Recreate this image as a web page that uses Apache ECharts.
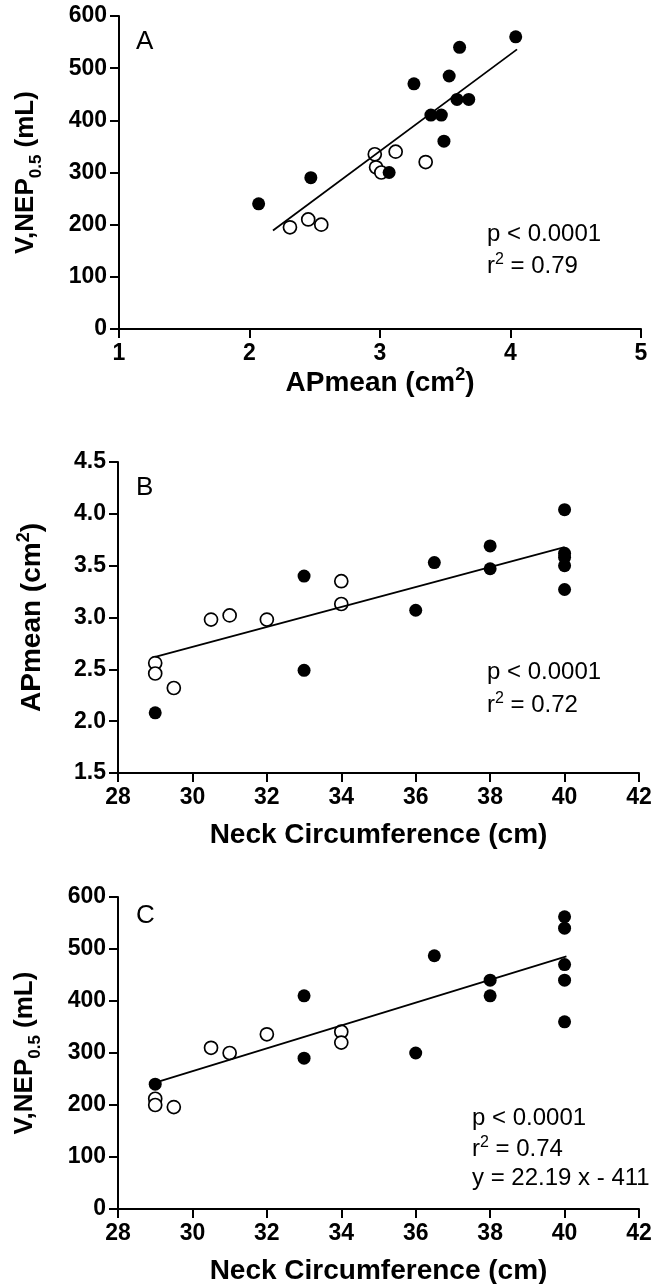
<!DOCTYPE html>
<html>
<head>
<meta charset="utf-8">
<script src="https://cdn.jsdelivr.net/npm/echarts@6/dist/echarts.min.js"></script>
<style>
  html, body { margin: 0; padding: 0; background: #fff; }
  #main { width: 668px; height: 1284px; }
</style>
</head>
<body>
<div id="main"></div>
<script>
// panel A: APmean vs V,NEP0.5
var apOpenX = [2.31, 2.45, 2.55, 2.96, 2.97, 3.01, 3.12, 3.35];
var vOpenA = [195, 210, 200, 335, 310, 300, 340, 320];
var apFilledX = [2.07, 2.47, 3.07, 3.26, 3.39, 3.47, 3.49, 3.53, 3.59, 3.61, 3.68, 4.04];
var vFilledA = [240, 290, 300, 470, 410, 410, 360, 485, 440, 540, 440, 560];
var fitAX = [2.18, 4.05];
var fitAY = [189, 536];

// panel B: neck circumference vs APmean
var neckOpen = [29, 29, 29.5, 30.5, 31, 32, 34, 34];
var apOpenB = [2.56, 2.46, 2.32, 2.98, 3.02, 2.98, 3.35, 3.13];
var neckFilled = [29, 33, 33, 36, 36.5, 38, 38, 40, 40, 40, 40, 40];
var apFilledB = [2.08, 3.40, 2.49, 3.07, 3.53, 3.69, 3.47, 4.04, 3.62, 3.58, 3.50, 3.27];
var fitBX = [29, 40];
var fitBY = [2.62, 3.68];

// panel C: neck circumference vs V,NEP0.5
var vOpenC = [212, 200, 196, 310, 300, 336, 341, 320];
var vFilledC = [240, 410, 290, 300, 487, 440, 410, 562, 540, 470, 440, 360];
var fitCX = [29, 40.05];
var fitCY = [243, 486];

var statsA = ['p < 0.0001', '0.79'];
var statsB = ['p < 0.0001', '0.72'];
var statsC = ['p < 0.0001', '0.74', 'y = 22.19 x - 411'];

var FONT = 'Liberation Sans, Arial, sans-serif';

function pairs(xs, ys) {
    var out = [];
    for (var i = 0; i < xs.length; i++) out.push([xs[i], ys[i]]);
    return out;
}

var boldName = {
    b: { fontSize: 26, fontWeight: 'bold', fontFamily: FONT, color: '#000', lineHeight: 32, verticalAlign: 'top' },
    s: { fontSize: 17, fontWeight: 'bold', fontFamily: FONT, color: '#000', lineHeight: 17, padding: [21, 0, 0, 0], verticalAlign: 'bottom' }
};
var supName = {
    b: { fontSize: 28, fontWeight: 'bold', fontFamily: FONT, color: '#000', lineHeight: 31, verticalAlign: 'bottom' },
    p: { fontSize: 18, fontWeight: 'bold', fontFamily: FONT, color: '#000', lineHeight: 18, verticalAlign: 'top' }
};

function xAxisOf(grid, min, max, step, name, gap, rich) {
    return {
        gridIndex: grid, type: 'value', min: min, max: max, interval: step,
        name: name, nameLocation: 'middle', nameGap: gap,
        nameTextStyle: { rich: rich },
        axisLine: { onZero: false, lineStyle: { color: '#000', width: 2 } },
        axisTick: { length: 9, lineStyle: { color: '#000', width: 2 } },
        axisLabel: { margin: 13, color: '#000', fontSize: 23, fontWeight: 'bold', fontFamily: FONT },
        splitLine: { show: false }
    };
}
function yAxisOf(grid, min, max, step, name, gap, rich, digits) {
    return {
        gridIndex: grid, type: 'value', min: min, max: max, interval: step,
        name: name, nameLocation: 'middle', nameGap: gap,
        nameTextStyle: { rich: rich },
        axisLine: { onZero: false, lineStyle: { color: '#000', width: 2 } },
        axisTick: { length: 9, lineStyle: { color: '#000', width: 2 } },
        axisLabel: {
            margin: 12, color: '#000', fontSize: 23, fontWeight: 'bold', fontFamily: FONT,
            formatter: function (v) { return v.toFixed(digits); }
        },
        splitLine: { show: false }
    };
}

function openSeries(idx, data) {
    return {
        type: 'scatter', xAxisIndex: idx, yAxisIndex: idx, data: data,
        symbol: 'circle', symbolSize: 13,
        itemStyle: { color: '#fff', borderColor: '#000', borderWidth: 1.7, opacity: 1 }
    };
}
function filledSeries(idx, data) {
    return {
        type: 'scatter', xAxisIndex: idx, yAxisIndex: idx, data: data,
        symbol: 'circle', symbolSize: 13,
        itemStyle: { color: '#000', opacity: 1 }
    };
}
function fitSeries(idx, data) {
    return {
        type: 'line', xAxisIndex: idx, yAxisIndex: idx, data: data,
        showSymbol: false, symbol: 'none', silent: true,
        lineStyle: { color: '#000', width: 1.8 }
    };
}

function plainText(x, y, text, size) {
    return {
        type: 'text', x: x, y: y,
        style: { text: text, fill: '#000', fontSize: size, fontFamily: FONT, verticalAlign: 'middle' }
    };
}
function r2Text(x, y, value) {
    return {
        type: 'text', x: x, y: y,
        style: {
            text: '{t|r}{u|2}{t| = ' + value + '}', verticalAlign: 'middle',
            rich: {
                t: { fontSize: 24, fontFamily: FONT, color: '#000', lineHeight: 27, verticalAlign: 'bottom' },
                u: { fontSize: 16, fontFamily: FONT, color: '#000', lineHeight: 16, verticalAlign: 'top' }
            }
        }
    };
}

var chart = echarts.init(document.getElementById('main'), null, { renderer: 'canvas' });

var option = {
    backgroundColor: '#fff',
    animation: false,
    grid: [
        { left: 119, right: 27, top: 16, height: 313, outerBoundsMode: 'none' },
        { left: 118, right: 29, top: 462, height: 311, outerBoundsMode: 'none' },
        { left: 118, right: 29, top: 897, height: 312, outerBoundsMode: 'none' }
    ],
    xAxis: [
        xAxisOf(0, 1, 5, 1, '{b|APmean (cm}{p|2}{b|)}', 24, supName),
        xAxisOf(1, 28, 42, 2, '{b|Neck Circumference (cm)}', 45, supName),
        xAxisOf(2, 28, 42, 2, '{b|Neck Circumference (cm)}', 45, supName)
    ],
    yAxis: [
        yAxisOf(0, 0, 600, 100, '{b|V,NEP}{s|0.5}{b| (mL)}', 74, boldName, 0),
        yAxisOf(1, 1.5, 4.5, 0.5, '{b|APmean (cm}{p|2}{b|)}', 72, supName, 1),
        yAxisOf(2, 0, 600, 100, '{b|V,NEP}{s|0.5}{b| (mL)}', 74, boldName, 0)
    ],
    series: [
        openSeries(0, pairs(apOpenX, vOpenA)),
        filledSeries(0, pairs(apFilledX, vFilledA)),
        fitSeries(0, pairs(fitAX, fitAY)),
        openSeries(1, pairs(neckOpen, apOpenB)),
        filledSeries(1, pairs(neckFilled, apFilledB)),
        fitSeries(1, pairs(fitBX, fitBY)),
        openSeries(2, pairs(neckOpen, vOpenC)),
        filledSeries(2, pairs(neckFilled, vFilledC)),
        fitSeries(2, pairs(fitCX, fitCY))
    ],
    graphic: [
        plainText(136, 42, 'A', 26),
        plainText(487, 234, statsA[0], 24),
        r2Text(487, 265, statsA[1]),
        plainText(136, 488, 'B', 26),
        plainText(487, 672, statsB[0], 24),
        r2Text(487, 704, statsB[1]),
        plainText(136, 916, 'C', 26),
        plainText(472, 1118, statsC[0], 24),
        r2Text(472, 1148, statsC[1]),
        plainText(472, 1178, statsC[2], 24)
    ]
};
chart.setOption(option);
</script>
</body>
</html>
